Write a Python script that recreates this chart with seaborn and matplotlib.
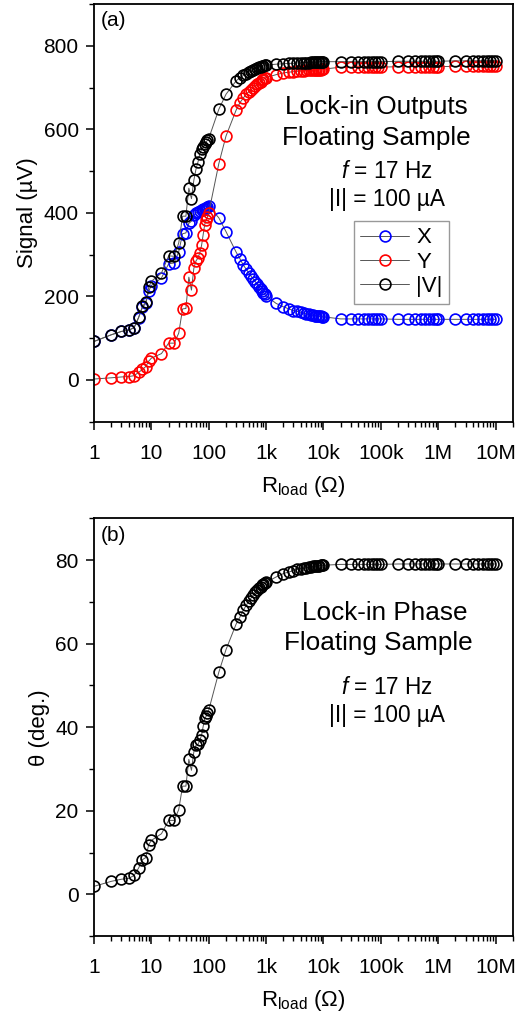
import matplotlib
matplotlib.use("Agg")
import matplotlib.pyplot as plt
import seaborn as sns
from matplotlib.ticker import FixedLocator, LogLocator, MultipleLocator, NullFormatter

# load resistance (ohm)
r_load = [1, 2, 3, 4, 5, 6, 7, 8, 9, 10, 15, 20, 25, 30, 35, 40, 45, 50, 55, 60,
          65, 70, 75, 80, 85, 90, 95, 100,
          150, 200, 300, 350, 400, 450, 500, 550, 600, 650, 700, 750, 800, 850,
          900, 950, 1000,
          1500, 2000, 2500, 3000, 3500, 4000, 4500, 5000, 5500, 6000, 6500, 7000,
          7500, 8000, 8500, 9000, 9500, 10000,
          20e3, 30e3, 40e3, 50e3, 60e3, 70e3, 80e3, 90e3, 100e3,
          200e3, 300e3, 400e3, 500e3, 600e3, 700e3, 800e3, 900e3, 1e6,
          2e6, 3e6, 4e6, 5e6, 6e6, 7e6, 8e6, 9e6, 10e6]

# lock-in X (uV)
x_sig = [92, 108, 116, 119, 125, 149, 174, 183, 213, 226, 244, 278, 280, 307, 350, 352,
         375, 380, 395, 400, 403, 405, 407, 409, 410, 412, 414, 416,
         388, 355, 306, 290, 275, 265, 256, 248, 241, 235, 229, 223, 218, 213,
         209, 205, 201,
         183, 175, 170, 166, 164, 162, 160, 158, 157, 156, 155, 154,
         153, 153, 152, 152, 151, 151,
         146, 146, 146, 146, 146, 146, 146, 146, 146,
         145, 145, 145, 145, 145, 145, 145, 145, 145,
         145, 145, 145, 145, 145, 145, 145, 145, 145]

# lock-in Y (uV)
y_sig = [2, 5, 7, 8, 10, 18, 25, 32, 45, 52, 63, 88, 88, 112, 170, 171,
         246, 215, 267, 285, 292, 305, 322, 348, 372, 382, 390, 400,
         518, 584, 646, 664, 675, 684, 690, 695, 700, 704, 708, 711, 714, 717,
         720, 722, 724,
         731, 735, 737, 738, 739, 740, 740, 741, 741, 742, 742, 742,
         743, 743, 743, 743, 744, 744,
         749, 749, 749, 749, 749, 749, 749, 749, 749,
         750, 750, 750, 750, 750, 750, 750, 750, 750,
         751, 751, 751, 751, 751, 751, 751, 751, 751]

# lock-in |V| (uV)
v_sig = [92, 108, 116, 119, 125, 150, 176, 186, 222, 236, 256, 297, 296, 328, 392, 392,
         459, 434, 478, 505, 522, 542, 552, 557, 565, 570, 574, 578,
         648, 684, 716, 724, 729, 733, 737, 740, 743, 745, 747, 749, 750, 751,
         752, 753, 754,
         756, 757, 758, 758, 759, 759, 760, 760, 760, 761, 761, 761,
         761, 761, 762, 762, 762, 762,
         762, 762, 762, 762, 762, 762, 762, 762, 762,
         763, 763, 763, 763, 763, 763, 763, 763, 763,
         764, 764, 764, 764, 764, 764, 764, 764, 764]

# lock-in phase (deg)
theta = [1.9, 3.1, 3.6, 3.8, 4.5, 6.3, 8.3, 8.8, 11.9, 12.9, 14.5, 17.7, 17.7, 20.3,
         25.9, 25.9, 32.3, 29.7, 34.1, 35.7, 35.9, 36.9, 38.1, 40.2, 42.1, 42.6,
         43.3, 44.1,
         53.2, 58.6, 64.7, 66.4, 68.0, 69.2, 70.2, 71.0, 71.7, 72.3, 72.8, 73.3,
         73.7, 74.0, 74.3, 74.5, 74.7,
         76.0, 76.8, 77.2, 77.5, 77.8, 78.0, 78.1, 78.2, 78.3, 78.4, 78.5, 78.6,
         78.6, 78.7, 78.7, 78.8, 78.8, 78.8,
         79.0, 79.0, 79.0, 79.0, 79.0, 79.0, 79.0, 79.0, 79.0,
         79.1, 79.1, 79.1, 79.1, 79.1, 79.1, 79.1, 79.1, 79.1,
         79.1, 79.1, 79.1, 79.1, 79.1, 79.1, 79.1, 79.1, 79.1]

xtick_vals = [1, 10, 100, 1e3, 1e4, 1e5, 1e6, 1e7]
xtick_labels = ["1", "10", "100", "1k", "10k", "100k", "1M", "10M"]

sns.set_style("ticks")
plt.rcParams['font.family'] = ['Liberation Sans', 'DejaVu Sans']
plt.rcParams['mathtext.fontset'] = 'custom'
plt.rcParams['mathtext.rm'] = 'Liberation Sans'
plt.rcParams['mathtext.it'] = 'Liberation Sans:italic'
plt.rcParams['text.color'] = 'black'
plt.rcParams['axes.labelcolor'] = 'black'
plt.rcParams['xtick.color'] = 'black'
plt.rcParams['ytick.color'] = 'black'


def style_axis(ax, ylim, ymajor, yminor):
    ax.set_xscale('log')
    ax.set_xlim(1, 2e7)
    ax.set_ylim(*ylim)
    ax.xaxis.set_major_locator(FixedLocator(xtick_vals))
    ax.set_xticklabels(xtick_labels)
    ax.xaxis.set_minor_locator(LogLocator(base=10, subs=range(2, 10), numticks=20))
    ax.xaxis.set_minor_formatter(NullFormatter())
    ax.yaxis.set_major_locator(MultipleLocator(ymajor))
    ax.yaxis.set_minor_locator(MultipleLocator(yminor))
    ax.tick_params(which='major', direction='out', length=6, width=1.1,
                   labelsize=15, color='black')
    ax.tick_params(axis='x', which='major', pad=10)
    ax.tick_params(axis='y', which='major', pad=5)
    ax.tick_params(which='minor', direction='out', length=3.5, width=1.0, color='black')
    for s in ax.spines.values():
        s.set_visible(True)
        s.set_linewidth(1.3)
        s.set_color('black')
    ax.set_xlabel("R$_{\\mathrm{load}}$ (\u03a9)", fontsize=16, labelpad=8)


fig = plt.figure(figsize=(5.21, 10.16), dpi=100)
ax1 = fig.add_axes([0.1804, 0.585, 0.804, 0.411])
ax2 = fig.add_axes([0.1804, 0.0787, 0.804, 0.411])

line_kw = dict(color='#555555', linewidth=0.7, marker='o', markersize=7.8,
               mfc='none', mew=1.2, estimator=None, sort=False)

sns.lineplot(x=r_load, y=x_sig, ax=ax1, mec='#0000ff', label='X', **line_kw)
sns.lineplot(x=r_load, y=y_sig, ax=ax1, mec='#ff0000', label='Y', **line_kw)
sns.lineplot(x=r_load, y=v_sig, ax=ax1, mec='black', label='|V|', **line_kw)

style_axis(ax1, (-100, 900), 200, 100)
ax1.set_ylabel("Signal (\u00b5V)", fontsize=16)
leg = ax1.legend(loc='center', bbox_to_anchor=(0.734, 0.382), fontsize=16,
                 frameon=True, fancybox=False, edgecolor='#808080',
                 handlelength=2.2, handletextpad=0.3, labelspacing=0.15,
                 borderpad=0.3, borderaxespad=0)
leg.get_frame().set_linewidth(1.0)

ax1.text(0.015, 0.96, "(a)", transform=ax1.transAxes, fontsize=15, va='center', ha='left')
ax1.text(0.675, 0.753, "Lock-in Outputs", transform=ax1.transAxes, fontsize=18.8,
         ha='center', va='center')
ax1.text(0.675, 0.679, "Floating Sample", transform=ax1.transAxes, fontsize=18.8,
         ha='center', va='center')
ax1.text(0.70, 0.600, "$f$ = 17 Hz", transform=ax1.transAxes, fontsize=16.3,
         ha='center', va='center')
ax1.text(0.70, 0.533, "|I| = 100 \u00b5A", transform=ax1.transAxes, fontsize=16.3,
         ha='center', va='center')

sns.lineplot(x=r_load, y=theta, ax=ax2, mec='black', **line_kw)
style_axis(ax2, (-10, 90), 20, 10)
ax2.set_ylabel("\u03b8 (deg.)", fontsize=16)

ax2.text(0.015, 0.96, "(b)", transform=ax2.transAxes, fontsize=15, va='center', ha='left')
ax2.text(0.695, 0.773, "Lock-in Phase", transform=ax2.transAxes, fontsize=18.8,
         ha='center', va='center')
ax2.text(0.678, 0.701, "Floating Sample", transform=ax2.transAxes, fontsize=18.8,
         ha='center', va='center')
ax2.text(0.70, 0.596, "$f$ = 17 Hz", transform=ax2.transAxes, fontsize=16.3,
         ha='center', va='center')
ax2.text(0.70, 0.529, "|I| = 100 \u00b5A", transform=ax2.transAxes, fontsize=16.3,
         ha='center', va='center')

fig.savefig("out.png", dpi=100)
plt.close(fig)
